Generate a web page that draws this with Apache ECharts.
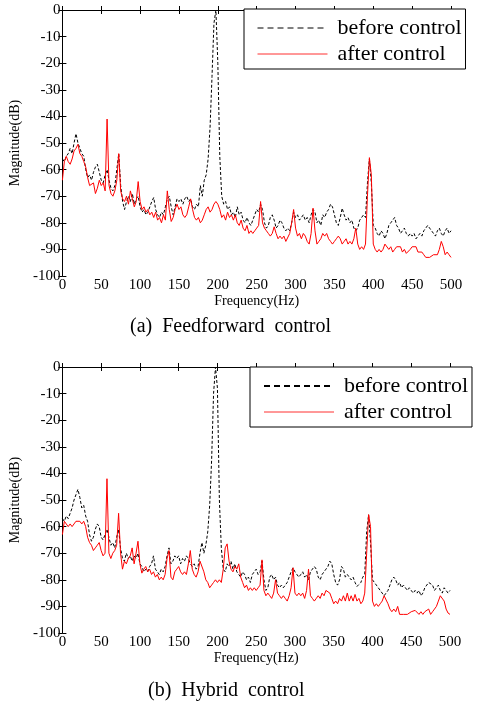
<!DOCTYPE html>
<html>
<head>
<meta charset="utf-8">
<script src="https://cdn.jsdelivr.net/npm/echarts@6/dist/echarts.min.js"></script>
<style>
html,body{margin:0;padding:0;background:#fff;}
#c{width:479px;height:707px;}
</style>
</head>
<body>
<div id="c"></div>
<script>
// Frequency resolution of the spectra (Hz per sample), samples start at 0 Hz
var freqStep = 2.5;
var xTicks = [0, 50, 100, 150, 200, 250, 300, 350, 400, 450, 500];
var yTicks = [0, -10, -20, -30, -40, -50, -60, -70, -80, -90, -100];
var seriesNames = ['before control', 'after control'];
var panelTitles = ['(a)  Feedforward  control', '(b)  Hybrid  control'];

// (a) Feedforward control — magnitude (dB)
var beforeA = [
-56,-57,-55,-54,-52,-54,-50,-46.5,-50,-52,
-54,-55,-60,-63,-62,-64,-61,-59,-58,-61,
-64,-65,-62,-60,-64,-67,-68,-66,-60,-54,
-66,-72,-75,-72,-70,-72,-69,-73,-71,-70,
-74,-76,-75,-77,-76,-74,-72,-70.5,-75,-77,
-78,-76,-77,-74,-71,-70,-74,-77,-74,-71,
-72,-71,-73,-71,-70,-72,-71,-74,-75,-73,
-74,-66,-70,-64,-62,-56,-44,-25,-5,0,
-20,-55,-70,-73,-72,-75,-74,-77,-76,-78,
-74,-77,-76,-79,-80,-78,-80,-81,-79,-77,
-75,-76,-73,-75,-80,-82,-81,-78,-77,-79,
-82,-81,-79,-80,-82,-83,-82,-83,-80,-76,
-78,-77,-79,-78,-77,-79,-78,-80,-77,-75,
-76,-80,-79,-81,-77,-78,-76,-75,-73,-74,
-77,-80,-81,-78,-74.5,-77,-79,-78,-80,-79,
-82,-83,-82,-79,-78,-77,-78,-65,-56,-65,
-81,-82,-84,-85,-83,-84,-86,-84,-81,-80,
-79,-78,-81,-82,-84,-83,-82,-84,-85,-84,
-85,-84,-86,-85,-84,-85,-83,-82,-81,-82,
-83,-84,-85,-83,-82,-84,-85,-83,-82,-84,
-83
];
var afterA = [
-64,-57,-55,-57,-58,-56,-53,-52,-50.5,-54,
-55,-57,-59,-63,-66,-66.5,-65,-69,-67,-64,
-66,-65,-68,-41,-66,-69,-70,-68,-64,-54,
-68,-71,-72,-70,-73,-68,-71,-74,-72,-64.5,
-72,-75,-74,-76,-75,-77,-76,-78,-76,-79,
-78,-80,-77,-79,-68,-75,-79.5,-78,-75,-73,
-75,-74,-77,-78,-77,-74,-71,-75,-78,-79,
-78,-80,-79,-77,-75,-74,-76,-75,-73,-72,
-73,-75,-78,-77,-79,-76,-78,-77,-79,-77,
-80,-81,-79,-82,-83,-81,-84,-83,-84,-83,
-82,-81,-72,-80,-82,-83,-84,-85,-84,-81.5,
-84,-86,-85,-86,-85,-87,-87.5,-84,-80,-75,
-82,-85,-84,-86,-84,-85,-87,-88,-84,-74.5,
-83,-88,-87,-86,-84,-85,-84,-86,-87,-88,
-87,-86,-85,-86,-88,-87,-86,-88,-87,-88,
-86,-82,-88,-90,-89,-90,-88,-70,-55.5,-62,
-88,-90,-91,-90,-91,-90,-88,-87.5,-90,-89,
-91,-90,-89,-88.5,-89,-91,-90,-91.5,-92,-90,
-89,-88.5,-89,-91,-91.5,-91,-92,-93,-93.5,-93,
-93.5,-92,-91.5,-92,-90,-87,-89,-92,-91,-92,
-93
];

// (b) Hybrid control — magnitude (dB)
var beforeB = [
-57,-58,-56,-57,-55,-53,-50,-48,-46,-49,
-53,-52,-56,-58,-63,-65.5,-64,-61,-59,-60,
-64,-65,-63,-61,-64,-67,-66,-68,-64,-61,
-68,-72,-73,-70,-72,-71,-73,-71,-72,-70,
-74,-75,-77,-76,-77,-75,-74,-71,-76,-77,
-78,-76,-77,-75,-71,-68,-74,-73,-71,-72,
-71,-74,-72,-73,-71,-72,-74,-75,-74,-76,
-75,-70,-66,-70,-67,-62,-52,-35,-10,0,
-8,-50,-68,-76,-77,-74,-75,-73,-76,-74,
-77,-78,-79,-77,-78,-80,-79,-81,-78,-77,
-76,-78,-77,-73,-80,-84,-83,-79,-78,-80,
-79,-82,-83,-82,-83,-82,-81,-79,-77,-75.5,
-77,-78,-79,-78,-77,-79,-78,-80,-77,-76,
-75,-76,-79,-80,-78,-77,-76,-75,-73,-74,
-78,-81,-82,-80,-75,-76,-79,-78,-79,-80,
-79,-81,-82.5,-83,-81,-79,-78,-62,-55.5,-66,
-80,-81,-82,-83,-84,-85,-86,-86,-84,-82,
-80,-79,-80,-82,-81,-83,-82,-83,-84,-83,
-84,-85,-84,-85,-84,-86,-85,-83,-82,-81,
-80.5,-82,-84,-83,-82,-84,-85,-83,-84,-85,
-84
];
var afterB = [
-63,-58,-59,-60,-59,-60,-59,-58,-57.5,-58,
-59,-58,-60,-64,-66,-67,-69,-68,-67,-66,
-69,-71,-70,-42,-70,-72,-70,-69,-67,-55,
-70,-76,-73,-74,-72,-71,-68,-74,-70,-65.5,
-74,-77.5,-76,-75,-77,-76,-78,-77,-79,-78,
-80,-79,-80,-78,-72,-69,-79,-80,-77,-76,
-75,-77,-78,-77,-78,-74,-69,-76,-78,-79,
-77,-73,-72.5,-77,-80,-81,-83,-82,-81,-80,
-81,-80,-81,-76,-68,-66.5,-73,-76,-77,-75,
-76,-74,-79,-81,-83,-82,-84,-83,-84,-83,
-84,-83,-82,-72.5,-84,-86,-85,-86,-87,-85,
-80,-85,-86,-87,-86,-87,-88,-86,-83,-75.5,
-85,-86,-85,-86,-85,-87,-84,-76,-86,-87,
-88,-87,-86,-87,-85,-86,-84,-84,-85,-87,
-89,-88,-89,-87,-88,-86,-88,-85,-88,-86,
-88,-85.5,-88,-87,-89,-88,-85,-70,-55.5,-60,
-88,-90,-89,-90,-89,-88,-86,-85.5,-89,-91,
-92,-91,-92,-90,-93,-93.5,-93,-93.5,-93,-93.5,
-92,-92.5,-91.5,-92,-93,-92,-93,-92,-92.5,-91,
-93,-92,-91,-90,-88,-86,-85.5,-88,-91,-92.5,
-93
];

function pairs(arr) {
  return arr.map(function (v, i) { return [i * freqStep, v]; });
}

var FONT = 'Liberation Serif';
var grids = [
  {left: 54, top: 10, width: 397, height: 266},
  {left: 57, top: 367, width: 393, height: 266}
];
var legendPos = [{left: 244, top: 9}, {left: 250, top: 367}];
var data = [[beforeA, afterA], [beforeB, afterB]];

var xAxes = [], yAxes = [], series = [], legends = [];
grids.forEach(function (g, k) {
  var xMin = xTicks[0], xMax = xTicks[xTicks.length - 1];
  var yMin = yTicks[yTicks.length - 1], yMax = yTicks[0];
  var xInt = xTicks[1] - xTicks[0], yInt = yTicks[0] - yTicks[1];
  var axLine = {show: true, lineStyle: {color: '#000', width: 1}};
  var tick = {show: true, inside: true, length: 4, lineStyle: {color: '#000'}};
  xAxes.push({
    type: 'value', gridIndex: k, min: xMin, max: xMax, interval: xInt,
    position: 'bottom', axisLine: axLine, axisTick: tick, splitLine: {show: false},
    axisLabel: {color: '#000', fontFamily: FONT, fontSize: 15, margin: 2},
    name: 'Frequency(Hz)', nameLocation: 'middle', nameGap: 18,
    nameTextStyle: {color: '#000', fontFamily: FONT, fontSize: 14}
  });
  xAxes.push({
    type: 'value', gridIndex: k, min: xMin, max: xMax, interval: xInt,
    position: 'top', axisLine: axLine, axisTick: tick, splitLine: {show: false},
    axisLabel: {show: false}
  });
  yAxes.push({
    type: 'value', gridIndex: k, min: yMin, max: yMax, interval: yInt,
    position: 'left', axisLine: axLine, axisTick: tick, splitLine: {show: false},
    axisLabel: {color: '#000', fontFamily: FONT, fontSize: 15, margin: 2},
    name: 'Magnitude(dB)', nameLocation: 'middle', nameGap: 29, nameRotate: 90,
    nameTextStyle: {color: '#000', fontFamily: FONT, fontSize: 14}
  });
  yAxes.push({
    type: 'value', gridIndex: k, min: yMin, max: yMax, interval: yInt,
    position: 'right', axisLine: axLine, axisTick: tick, splitLine: {show: false},
    axisLabel: {show: false}
  });
  series.push({
    name: seriesNames[0], type: 'line', xAxisIndex: 2 * k, yAxisIndex: 2 * k,
    data: pairs(data[k][0]), showSymbol: false, symbol: 'none',
    lineStyle: {color: '#000', width: 1, type: [3, 2]}, itemStyle: {color: '#000'}
  });
  series.push({
    name: seriesNames[1], type: 'line', xAxisIndex: 2 * k, yAxisIndex: 2 * k,
    data: pairs(data[k][1]), showSymbol: false, symbol: 'none',
    lineStyle: {color: '#ff0000', width: 1}, itemStyle: {color: '#ff0000'}
  });
  legends.push({
    left: legendPos[k].left, top: legendPos[k].top, orient: 'vertical',
    data: [
      {name: seriesNames[0], lineStyle: {color: '#000', width: k === 1 ? 2 : 1, type: [6, 4]}},
      {name: seriesNames[1], lineStyle: {color: '#ff3030', width: 1, type: 'solid'}}
    ],
    itemWidth: 70, itemHeight: 14, itemGap: 4,
    padding: [8, 4, 4, 13], borderColor: '#000', borderWidth: 1,
    backgroundColor: '#fff', selectedMode: false,
    itemStyle: {opacity: 0},
    textStyle: {color: '#000', fontFamily: FONT, fontSize: 22, padding: [0, 0, 0, 5]}
  });
});

var chart = echarts.init(document.getElementById('c'), null, {renderer: 'canvas'});
chart.setOption({
  animation: false,
  backgroundColor: '#fff',
  grid: grids,
  xAxis: xAxes,
  yAxis: yAxes,
  legend: legends,
  series: series,
  graphic: [
    {type: 'text', left: 130, top: 317, style: {text: panelTitles[0], font: '20px "Liberation Serif"', fill: '#000'}},
    {type: 'text', left: 148, top: 681, style: {text: panelTitles[1], font: '20px "Liberation Serif"', fill: '#000'}}
  ]
});
</script>
</body>
</html>
